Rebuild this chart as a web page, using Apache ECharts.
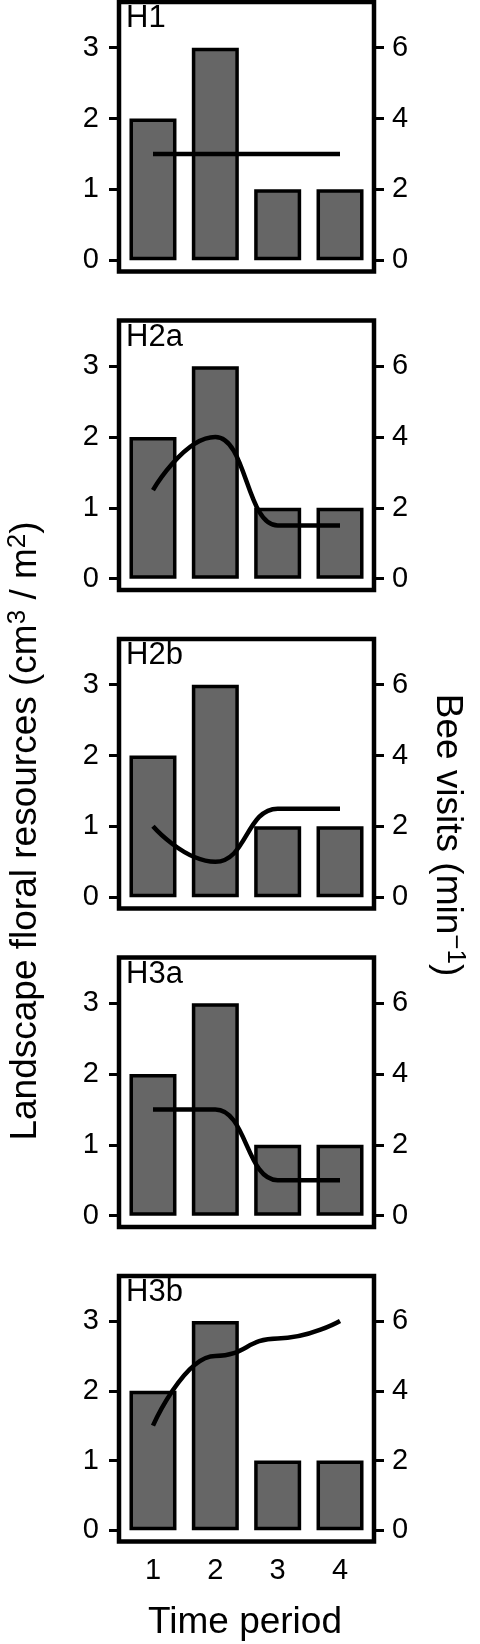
<!DOCTYPE html>
<html>
<head>
<meta charset="utf-8">
<script src="https://cdn.jsdelivr.net/npm/echarts@6/dist/echarts.min.js"></script>
<style>
  html, body { margin: 0; padding: 0; background: #fff; }
  #chart { width: 480px; height: 1644px; }
</style>
</head>
<body>
<div id="chart"></div>
<script>
// ---- data ----
const periods = [1, 2, 3, 4];
const floralResources = [2, 3, 1, 1];
const hypotheses = ['H1', 'H2a', 'H2b', 'H3a', 'H3b'];
const visitsH1 = [3, 3, 3, 3];
const visitsH2a = [2.5, 4, 1.5, 1.5];
const visitsH2b = [2, 1, 2.5, 2.5];
const visitsH3a = [3, 3, 1, 1];
const visitsH3b = [3, 5, 5.5, 6];
const leftTicks = [0, 1, 2, 3];
const rightTicks = [0, 2, 4, 6];
const bottomTitle = 'Time period';

const visitsByPanel = [visitsH1, visitsH2a, visitsH2b, visitsH3a, visitsH3b];

// ---- layout ----
const FONT = '"Liberation Sans", Arial, Helvetica, sans-serif';
const gridLeft = 119, gridWidth = 255, gridTop0 = 2, gridStep = 318.5;
const gridHeights = [269.5, 269.5, 269.5, 269.5, 265.5];
const TICK_FS = 29, TITLE_FS = 37, SUP_FS = 26;

const grids = [], xAxes = [], yAxes = [], series = [], graphics = [];

hypotheses.forEach((name, i) => {
  const top = gridTop0 + gridStep * i;
  const isLast = i === hypotheses.length - 1;
  grids.push({
    left: gridLeft, top: top, width: gridWidth, height: gridHeights[i],
    show: true, borderColor: '#000', borderWidth: 4.5, backgroundColor: '#fff',
    containLabel: false
  });
  xAxes.push({
    type: 'value', gridIndex: i, min: 0.455, max: 4.545,
    axisLine: { show: false }, axisTick: { show: false }, splitLine: { show: false },
    axisLabel: {
      show: isLast, customValues: periods, margin: 15,
      fontSize: TICK_FS, color: '#000', fontFamily: FONT
    }
  });
  yAxes.push({
    type: 'value', gridIndex: i, position: 'left', min: -0.16, max: 3.645,
    axisLine: { show: false }, splitLine: { show: false },
    axisTick: { show: true, length: 10, customValues: leftTicks, lineStyle: { color: '#000', width: 3 } },
    axisLabel: { customValues: leftTicks, margin: 20, fontSize: TICK_FS, color: '#000', fontFamily: FONT }
  });
  yAxes.push({
    type: 'value', gridIndex: i, position: 'right', min: -0.32, max: 7.29,
    axisLine: { show: false }, splitLine: { show: false },
    axisTick: { show: true, length: 10, customValues: rightTicks, lineStyle: { color: '#000', width: 3 } },
    axisLabel: { customValues: rightTicks, margin: 18, fontSize: TICK_FS, color: '#000', fontFamily: FONT }
  });
  series.push({
    type: 'bar', xAxisIndex: i, yAxisIndex: 2 * i,
    data: periods.map((p, k) => [p, floralResources[k]]),
    barWidth: 47,
    itemStyle: { color: '#666666', borderColor: '#000', borderWidth: 3.5 },
    silent: true, z: 2
  });
  series.push({
    type: 'line', xAxisIndex: i, yAxisIndex: 2 * i + 1,
    data: periods.map((p, k) => [p, visitsByPanel[i][k]]),
    smooth: 0.5, smoothMonotone: 'x', showSymbol: false, symbol: 'none',
    lineStyle: { color: '#000', width: 4.5, cap: 'butt' },
    silent: true, z: 3
  });
  graphics.push({
    type: 'text', left: 126, top: top + 1,
    style: { text: name, font: '31px ' + FONT, fill: '#000' }, z: 10
  });
});

const richStyles = {
  n: { fontSize: TITLE_FS, fontFamily: FONT, color: '#000', verticalAlign: 'bottom' },
  s: { fontSize: SUP_FS, fontFamily: FONT, color: '#000', verticalAlign: 'top' }
};

graphics.push({
  type: 'text', x: 24.5, y: 831, rotation: Math.PI / 2,
  style: {
    text: '{n|Landscape floral resources (cm}{s|3}{n| / m}{s|2}{n|)}',
    rich: richStyles, fill: '#000', align: 'center', verticalAlign: 'middle',
    lineHeight: 40
  }
});
graphics.push({
  type: 'text', x: 448.5, y: 835, rotation: -Math.PI / 2,
  style: {
    text: '{n|Bee visits (min}{s|\u22121}{n|)}',
    rich: richStyles, fill: '#000', align: 'center', verticalAlign: 'middle',
    lineHeight: 40
  }
});
graphics.push({
  type: 'text', x: 245, y: 1623,
  style: { text: bottomTitle, font: TITLE_FS + 'px ' + FONT, fill: '#000', align: 'center', verticalAlign: 'middle' }
});

const chart = echarts.init(document.getElementById('chart'), null, { renderer: 'canvas' });
chart.setOption({
  animation: false,
  backgroundColor: '#fff',
  grid: grids,
  xAxis: xAxes,
  yAxis: yAxes,
  series: series,
  graphic: graphics
});
</script>
</body>
</html>
